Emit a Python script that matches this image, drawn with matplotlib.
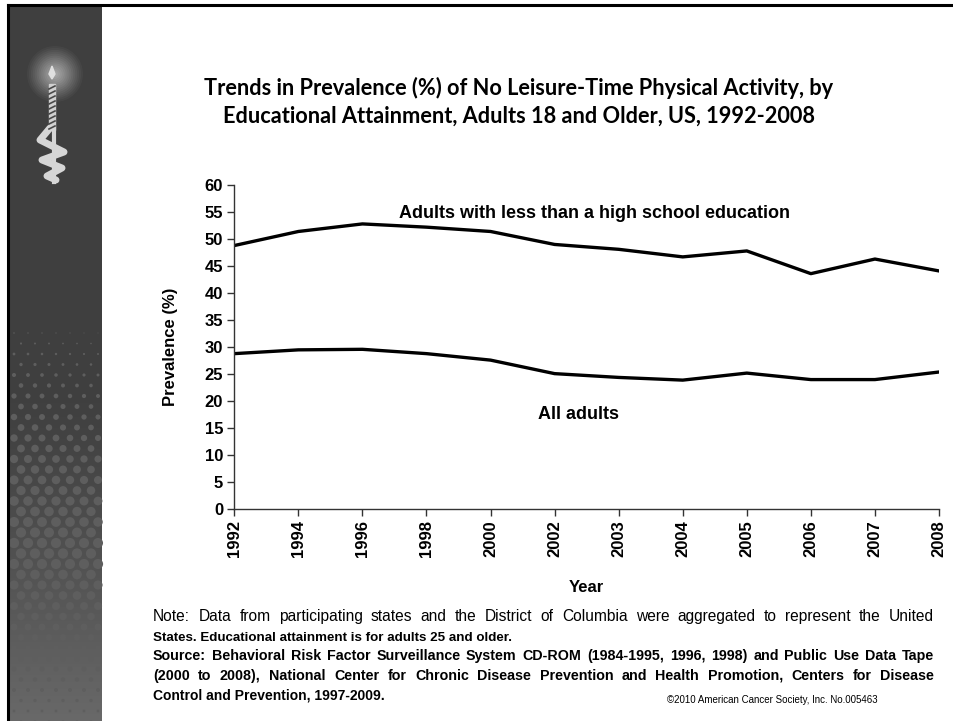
import numpy as np
import matplotlib
matplotlib.use('Agg')
import matplotlib.pyplot as plt
from matplotlib.patches import Rectangle, Circle, Polygon

# data
years = ['1992', '1994', '1996', '1998', '2000', '2002', '2003',
         '2004', '2005', '2006', '2007', '2008']
less_than_hs = [48.8, 51.4, 52.8, 52.2, 51.4, 49.0, 48.1, 46.7, 47.8, 43.6, 46.3, 44.1]
all_adults = [28.8, 29.5, 29.6, 28.8, 27.6, 25.1, 24.4, 23.9, 25.2, 24.0, 24.0, 25.4]

W, H = 954, 721
fig = plt.figure(figsize=(W / 100, H / 100), dpi=100)
fig.patch.set_facecolor('white')

# --- slide decoration in pixel coords ---
bg = fig.add_axes([0, 0, 1, 1], zorder=0)
bg.set_xlim(0, W)
bg.set_ylim(H, 0)
bg.axis('off')

grad = np.linspace(0, 1, 200)
grad = np.clip((grad - 0.55) / 0.45, 0, 1) ** 1.2
col = 0.25 + grad * 0.16
img = np.dstack([col, col, col]).reshape(200, 1, 3)
bg.imshow(img, extent=(9, 102, H, 6), aspect='auto', zorder=1)

# halftone dots
for r, yy in enumerate(np.arange(312, 725, 10.5)):
    off = 0 if r % 2 == 0 else 7
    for xx in np.arange(14 + off, 102, 14):
        t = (yy - 310) / 250.0
        rad = 5.2 * np.sin(np.clip(t, 0, 1) * np.pi / 2) if yy < 560 else 5.2 - (yy - 560) / 160 * 4.0
        rad *= 1.0 - 0.4 * (xx - 10) / 92 * (1 - min(t, 1))
        if rad > 0.4:
            bg.add_patch(Circle((xx, yy), rad, color='#5e5e5e', lw=0, zorder=2))

# glow and candle
for rr, a in zip(np.linspace(28, 3, 14), np.linspace(0.03, 0.08, 14)):
    bg.add_patch(Circle((55, 74), rr, color='white', alpha=a, lw=0, zorder=3))
bg.add_patch(Polygon([[52, 66], [55, 74], [52, 79], [49, 74]], closed=True, color='#e0e0e0', zorder=4))
bg.add_patch(Rectangle((49, 84), 6, 46, color='#d0d0d0', zorder=4))
for yy in np.arange(86, 128, 5):
    bg.plot([49, 55], [yy + 3, yy], color='#4a4a4a', lw=1.2, zorder=5)
bg.plot([50, 40, 64, 42, 62, 47, 56], [128, 140, 152, 160, 168, 176, 180], color='#d6d6d6',
        lw=5, solid_capstyle='round', solid_joinstyle='round', zorder=4)
bg.plot([54, 54], [128, 182], color='#d6d6d6', lw=3, zorder=4)

# slide border
bg.plot([8, W], [5, 5], color='black', lw=2.2, zorder=6)
bg.plot([8, 8], [5, H], color='black', lw=2.2, zorder=6)

# --- title ---
title = ('Trends in Prevalence (%) of No Leisure-Time Physical Activity, by\n'
         'Educational Attainment, Adults 18 and Older, US, 1992-2008')
fig.text(519 / W, 1 - 102 / H, title, ha='center', va='center', fontsize=15.7,
         fontweight='bold', family=['Lato', 'DejaVu Sans'], linespacing=1.4)

# --- chart ---
ax = fig.add_axes([234.3 / W, 1 - 509.3 / H, (939 - 234.3) / W, (509.3 - 185) / H], zorder=3)
ax.patch.set_alpha(0)
x = np.arange(len(years))
ax.plot(x, less_than_hs, color='black', lw=2.4)
ax.plot(x, all_adults, color='black', lw=2.4)
ax.set_xlim(0, len(years) - 1)
ax.set_ylim(0, 60)
ax.set_yticks(range(0, 61, 5))
ax.set_xticks(x)
ax.set_xticklabels(years, rotation=90)
for s in ['top', 'right']:
    ax.spines[s].set_visible(False)
for s in ['left', 'bottom']:
    ax.spines[s].set_color('#333333')
    ax.spines[s].set_linewidth(1.0)
ax.tick_params(length=5, width=1.0, color='#333333', pad=3)
for lab in ax.get_xticklabels() + ax.get_yticklabels():
    lab.set_fontfamily('Liberation Sans')
    lab.set_fontweight('bold')
    lab.set_fontsize(12)
ax.set_ylabel('Prevalence (%)', fontsize=12, fontweight='bold', family='Liberation Sans', labelpad=19)
ax.set_xlabel('Year', fontsize=12, fontweight='bold', family='Liberation Sans', labelpad=16)

ax.text(5.62, 54.7, 'Adults with less than a high school education', ha='center', va='center',
        fontsize=13, fontweight='bold', family='Liberation Sans')
ax.text(5.37, 17.5, 'All adults', ha='center', va='center',
        fontsize=13, fontweight='bold', family='Liberation Sans')

# --- notes ---
narrow = ['Liberation Sans Narrow', 'Liberation Sans']
renderer = fig.canvas.get_renderer()


def note_line(txt, y, size=10, x0=153, x1=None, **kw):
    # y is the baseline in pixels; x1 given -> justify words across x0..x1
    if x1 is None:
        fig.text(x0 / W, 1 - y / H, txt, va='baseline', ha='left', fontsize=size, **kw)
        return
    words = txt.split(' ')
    objs = [fig.text(0, 1 - y / H, w, va='baseline', ha='left', fontsize=size, **kw) for w in words]
    widths = [o.get_window_extent(renderer).width for o in objs]
    gap = (x1 - x0 - sum(widths)) / (len(words) - 1)
    pos = x0
    for o, w in zip(objs, widths):
        o.set_x(pos / W)
        pos += w + gap


R = 934
note_line('Note: Data from participating states and the District of Columbia were aggregated to represent the United',
          621, 11.2, x1=R, family=narrow)
note_line('States. Educational attainment is for adults 25 and older.', 641, 9.6,
          fontweight='bold', family=narrow)
note_line('Source: Behavioral Risk Factor Surveillance System CD-ROM (1984-1995, 1996, 1998) and Public Use Data Tape',
          660, 10.3, x1=R, fontweight='bold', family=narrow)
note_line('(2000 to 2008), National Center for Chronic Disease Prevention and Health Promotion, Centers for Disease',
          680, 10.3, x1=R, fontweight='bold', family=narrow)
note_line('Control and Prevention, 1997-2009.', 699, 10, fontweight='bold', family=narrow)
fig.text(878 / W, 1 - 703 / H, '\u00a92010 American Cancer Society, Inc. No.005463', va='baseline',
         ha='right', fontsize=7, family=narrow)

fig.savefig('out.png', dpi=100)
